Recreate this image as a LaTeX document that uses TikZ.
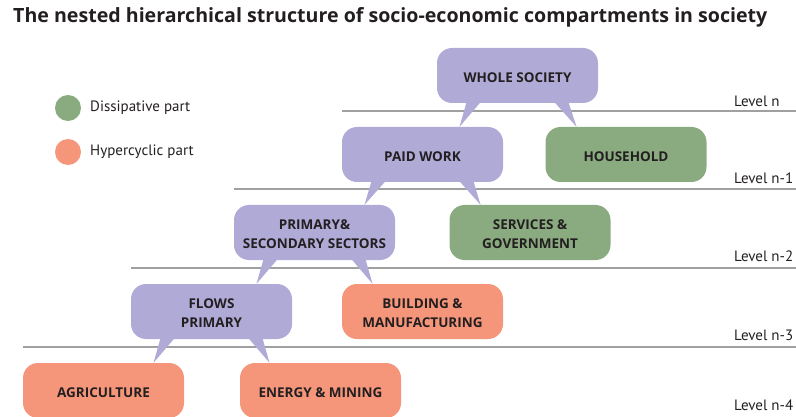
\documentclass[tikz,border=0pt]{standalone}
\usepackage{fontspec}
\setmainfont{PT Sans}
\newfontfamily\boldfont{Open Sans}
\usetikzlibrary{calc}
\definecolor{purplebox}{RGB}{176,170,214}
\definecolor{greenbox}{RGB}{138,170,128}
\definecolor{orangebox}{RGB}{245,150,122}
\definecolor{levelgray}{RGB}{160,160,160}
\definecolor{textdark}{RGB}{35,31,32}
\tikzset{
  box/.style={rounded corners=15pt, minimum width=161pt, minimum height=55pt, inner sep=0pt,
    align=center, text=textdark, text height=14.5pt, text depth=0pt,
    font=\boldfont\bfseries\fontsize{13.5}{19.5}\selectfont},
  twoline/.style={text height=32pt},
  levelline/.style={levelgray, line width=1.4pt},
  levellabel/.style={anchor=west, inner sep=0pt, text=textdark, font=\fontsize{15}{18}\selectfont}
}
\begin{document}
\begin{tikzpicture}[x=1pt, y=-1pt]
\useasboundingbox (0,0) rectangle (796,417);
\node[anchor=base west, inner sep=0pt, text=textdark, font=\boldfont\bfseries\fontsize{19.6}{22}\selectfont] (title) at (13,23) {The nested hierarchical structure of socio-economic compartments in society};
% legend
\node[circle, fill=greenbox, minimum size=26pt, inner sep=0pt] (dot0) at (68,108){};
\node[circle, fill=orangebox, minimum size=26pt, inner sep=0pt] (dot1) at (68,152){};
\node[levellabel] (leg0) at (90,108){Dissipative part};
\node[levellabel] (leg1) at (90,152){Hypercyclic part};
% levels
\draw[levelline] (342,111) -- (796,111);
\draw[levelline] (234,189) -- (796,189);
\draw[levelline] (131,268) -- (796,268);
\draw[levelline] (23,347) -- (796,347);
\node[levellabel] (lvl0) at (734,101){Level n};
\node[levellabel] (lvl1) at (734,178){Level n-1};
\node[levellabel] (lvl2) at (734,256){Level n-2};
\node[levellabel] (lvl3) at (734,335){Level n-3};
\node[levellabel] (lvl4) at (734,405){Level n-4};
% compartments
\node[box, fill=purplebox] (whole) at (517.5,75.5){WHOLE SOCIETY};
\node[box, fill=purplebox] (paid) at (422.5,154.5){PAID WORK};
\node[box, fill=greenbox] (house) at (626,154.5){HOUSEHOLD};
\node[box, twoline, fill=purplebox] (sectors) at (314.5,232.5){PRIMARY\&\\SECONDARY SECTORS};
\node[box, twoline, fill=greenbox] (services) at (530,232.5){SERVICES \&\\GOVERNMENT};
\node[box, twoline, fill=purplebox] (flows) at (211.5,311.5){FLOWS\\PRIMARY};
\node[box, twoline, fill=orangebox] (building) at (422.5,311.5){BUILDING \&\\MANUFACTURING};
\node[box, fill=orangebox] (agri) at (103.5,390.5){AGRICULTURE};
\node[box, fill=orangebox] (energy) at (320.5,390.5){ENERGY \& MINING};
% tails
\fill[purplebox] ([xshift=-51pt, yshift=1pt]whole.south) -- ([xshift=-37pt, yshift=1pt]whole.south) -- ($(whole.south |- paid.north)+(-58,0)$) -- cycle;
\fill[purplebox] ([xshift=37pt, yshift=1pt]whole.south) -- ([xshift=51pt, yshift=1pt]whole.south) -- ($(whole.south |- house.north)+(59,0)$) -- cycle;
\fill[purplebox] ([xshift=-51pt, yshift=1pt]paid.south) -- ([xshift=-37pt, yshift=1pt]paid.south) -- ($(paid.south |- sectors.north)+(-58,0)$) -- cycle;
\fill[purplebox] ([xshift=37pt, yshift=1pt]paid.south) -- ([xshift=51pt, yshift=1pt]paid.south) -- ($(paid.south |- services.north)+(58,0)$) -- cycle;
\fill[purplebox] ([xshift=-51pt, yshift=1pt]sectors.south) -- ([xshift=-37pt, yshift=1pt]sectors.south) -- ($(sectors.south |- flows.north)+(-58,0)$) -- cycle;
\fill[purplebox] ([xshift=37pt, yshift=1pt]sectors.south) -- ([xshift=51pt, yshift=1pt]sectors.south) -- ($(sectors.south |- building.north)+(58,0)$) -- cycle;
\fill[purplebox] ([xshift=-51pt, yshift=1pt]flows.south) -- ([xshift=-37pt, yshift=1pt]flows.south) -- ($(flows.south |- agri.north)+(-58,0)$) -- cycle;
\fill[purplebox] ([xshift=37pt, yshift=1pt]flows.south) -- ([xshift=51pt, yshift=1pt]flows.south) -- ($(flows.south |- energy.north)+(58,0)$) -- cycle;
\end{tikzpicture}
\end{document}
